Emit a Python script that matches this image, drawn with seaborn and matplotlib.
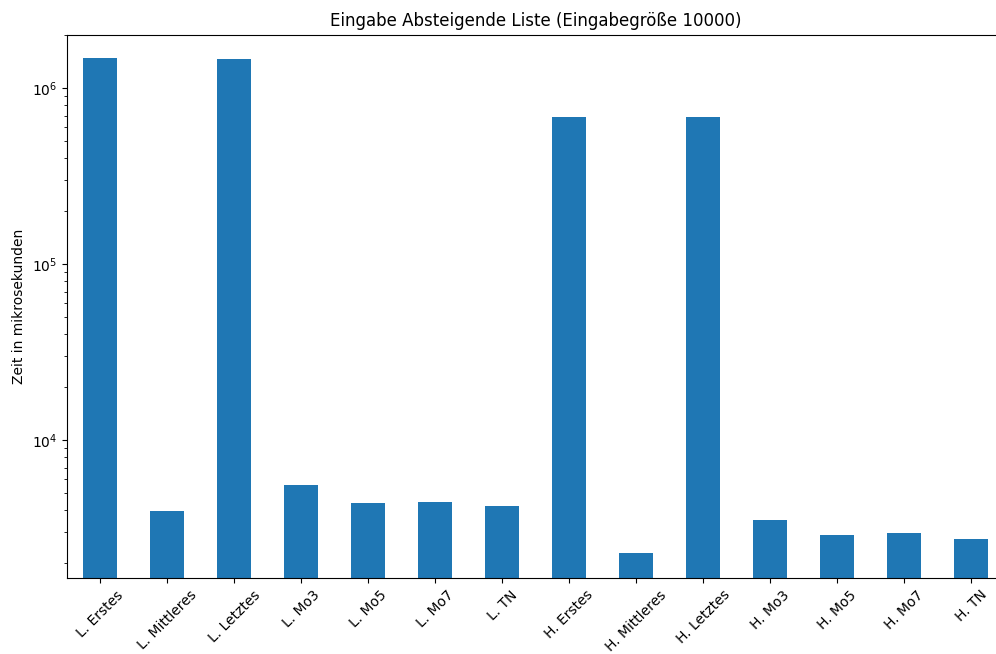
import matplotlib
matplotlib.use("Agg")
import matplotlib.pyplot as plt
import seaborn as sns
import pandas as pd

# Laufzeiten der Pivot-Varianten bei absteigend sortierter Eingabe
categories = [
    "L. Erstes", "L. Mittleres", "L. Letztes", "L. Mo3", "L. Mo5", "L. Mo7", "L. TN",
    "H. Erstes", "H. Mittleres", "H. Letztes", "H. Mo3", "H. Mo5", "H. Mo7", "H. TN",
]
times_us = [
    1486000, 3990, 1467000, 5550, 4430, 4490, 4250,
    684000, 2280, 683000, 3540, 2900, 2990, 2750,
]

df = pd.DataFrame({"variante": categories, "zeit": times_us})

fig = plt.figure(figsize=(9.96, 6.54), dpi=100)
ax = fig.add_axes([0.067, 0.116, 0.9417, 0.831])
ax.set_yscale("log")

sns.barplot(data=df, x="variante", y="zeit", color="#1f77b4", saturation=1,
            width=0.5, ax=ax)

ax.set_xlim(-0.5, len(categories) - 0.5)
ax.set_ylim(1650, 2.016e6)
ax.set_xlabel("")
ax.set_ylabel("Zeit in mikrosekunden")
ax.set_title("Eingabe Absteigende Liste (Eingabegröße 10000)")
ax.tick_params(axis="x", rotation=45)

fig.savefig("out.png", dpi=100)
